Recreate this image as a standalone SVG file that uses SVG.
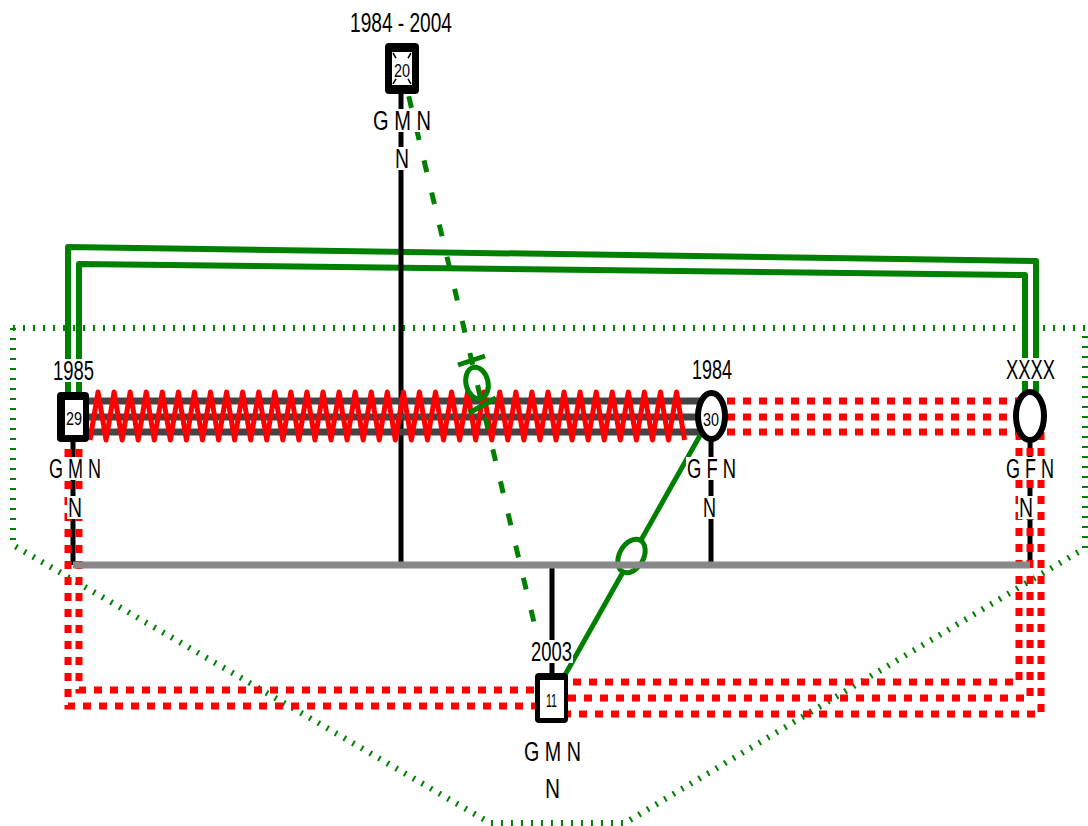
<svg xmlns="http://www.w3.org/2000/svg" width="1088" height="826" viewBox="0 0 1088 826">
<style>
.lbl{font-family:"Liberation Sans",Arial,sans-serif;font-size:27px;fill:#000}
.num{font-family:"Liberation Sans",Arial,sans-serif;font-size:19px;fill:#000}
.bg{fill:#fff}
.blk{stroke:#000;stroke-width:5;fill:none}
.grn{stroke:#008000;stroke-width:6;fill:none;stroke-linejoin:round}
.reddash{stroke:#ff0000;stroke-width:7;fill:none;stroke-dasharray:8 8}
.dark{stroke:#444;stroke-width:7;fill:none}
</style>
<rect width="1088" height="826" fill="#fff"/>
<g id="connectors">
  <polygon points="13,328 1085,328 1085,548 625,823 490,823 13,545" fill="none" stroke="#008000" stroke-width="6" stroke-dasharray="2 8"/>
  <polyline class="grn" points="68,417 68,247 1036,261 1036,416"/>
  <polyline class="grn" points="79,417 79,264 1025,275 1025,416"/>
  <line class="blk" x1="401" y1="68" x2="401" y2="565"/>
  <line class="blk" x1="73" y1="417" x2="73" y2="565"/>
  <line class="blk" x1="711" y1="416" x2="711" y2="565"/>
  <line class="blk" x1="1030" y1="416" x2="1030" y2="565"/>
  <line class="blk" x1="552" y1="565" x2="552" y2="698"/>
  <line class="dark" x1="73" y1="401" x2="711" y2="401"/>
  <line class="dark" x1="73" y1="417" x2="711" y2="417"/>
  <line class="dark" x1="73" y1="432" x2="711" y2="432"/>
  <path d="M90,440 l8.035,-48 8.035,48 l8.035,-48 8.035,48 l8.035,-48 8.035,48 l8.035,-48 8.035,48 l8.035,-48 8.035,48 l8.035,-48 8.035,48 l8.035,-48 8.035,48 l8.035,-48 8.035,48 l8.035,-48 8.035,48 l8.035,-48 8.035,48 l8.035,-48 8.035,48 l8.035,-48 8.035,48 l8.035,-48 8.035,48 l8.035,-48 8.035,48 l8.035,-48 8.035,48 l8.035,-48 8.035,48 l8.035,-48 8.035,48 l8.035,-48 8.035,48 l8.035,-48 8.035,48 l8.035,-48 8.035,48 l8.035,-48 8.035,48 l8.035,-48 8.035,48 l8.035,-48 8.035,48 l8.035,-48 8.035,48 l8.035,-48 8.035,48 l8.035,-48 8.035,48 l8.035,-48 8.035,48 l8.035,-48 8.035,48 l8.035,-48 8.035,48 l8.035,-48 8.035,48 l8.035,-48 8.035,48 l8.035,-48 8.035,48 l8.035,-48 8.035,48 l8.035,-48 8.035,48 l8.035,-48 8.035,48 l8.035,-48 8.035,48 l8.035,-48 8.035,48" fill="none" stroke="#ff0000" stroke-width="5" stroke-linejoin="round"/>
  <line class="reddash" x1="711" y1="401" x2="1030" y2="401"/>
  <line class="reddash" x1="711" y1="417" x2="1030" y2="417"/>
  <line class="reddash" x1="711" y1="432" x2="1030" y2="432"/>
  <polyline class="reddash" points="68,417 68,706 552,706"/>
  <polyline class="reddash" points="79,417 79,690 552,690"/>
  <polyline class="reddash" points="1019,416 1019,682 552,682"/>
  <polyline class="reddash" points="1030,416 1030,698 552,698"/>
  <polyline class="reddash" points="1041,416 1041,714 552,714"/>
  <line x1="711" y1="416" x2="552" y2="698" stroke="#008000" stroke-width="5"/>
  <ellipse cx="631.5" cy="556" rx="12" ry="18" transform="rotate(29.4 631.5 556)" fill="#fff" stroke="#008000" stroke-width="5"/>
  <line x1="73" y1="565" x2="1030" y2="565" stroke="#888" stroke-width="7"/>
  <line x1="402" y1="68" x2="552" y2="698" stroke="#008000" stroke-width="5" stroke-dasharray="12 21" stroke-dashoffset="4"/>
  <ellipse cx="477" cy="383" rx="11" ry="16" transform="rotate(-13.4 477 383)" fill="none" stroke="#008000" stroke-width="5"/>
  <line x1="458" y1="365" x2="485" y2="356" stroke="#008000" stroke-width="5"/>
  <line x1="469" y1="413" x2="496" y2="398" stroke="#008000" stroke-width="5"/>
</g>
<g id="node20">
  <rect x="385" y="43" width="34" height="51" rx="4" fill="#000"/>
  <rect x="392" y="52" width="20" height="33" fill="#fff"/>
  <line x1="393" y1="53" x2="411" y2="84" stroke="#000" stroke-width="1.5" stroke-dasharray="6 23.8 6"/>
  <line x1="411" y1="53" x2="393" y2="84" stroke="#000" stroke-width="1.5" stroke-dasharray="6 23.8 6"/>
  <text class="num" x="394" y="77" textLength="16" lengthAdjust="spacingAndGlyphs">20</text>
  <rect class="bg" x="349" y="11" width="104" height="23"/>
  <text class="lbl" x="350" y="32" textLength="102" lengthAdjust="spacingAndGlyphs">1984 - 2004</text>
  <rect class="bg" x="372" y="109" width="60" height="23"/>
  <text class="lbl" x="373" y="130" textLength="58" lengthAdjust="spacingAndGlyphs">G M N</text>
  <rect class="bg" x="394" y="147" width="16" height="23"/>
  <text class="lbl" x="395" y="168" textLength="14" lengthAdjust="spacingAndGlyphs">N</text>
</g>
<g id="node29">
  <rect x="57" y="392" width="32" height="50" rx="4" fill="#000"/>
  <rect x="65" y="400" width="18" height="35" fill="#fff"/>
  <text class="num" x="66" y="425" textLength="16" lengthAdjust="spacingAndGlyphs">29</text>
  <rect class="bg" x="52" y="359" width="43" height="23"/>
  <text class="lbl" x="53" y="380" textLength="41" lengthAdjust="spacingAndGlyphs">1985</text>
  <rect class="bg" x="48" y="457" width="54" height="23"/>
  <text class="lbl" x="49" y="478" textLength="52" lengthAdjust="spacingAndGlyphs">G M N</text>
  <rect class="bg" x="67" y="496" width="16" height="23"/>
  <text class="lbl" x="68" y="517" textLength="14" lengthAdjust="spacingAndGlyphs">N</text>
</g>
<g id="node30">
  <ellipse cx="711.5" cy="416" rx="13.5" ry="23" fill="#fff" stroke="#000" stroke-width="6"/>
  <text class="num" x="703" y="426" textLength="16" lengthAdjust="spacingAndGlyphs">30</text>
  <rect class="bg" x="691" y="358" width="42" height="23"/>
  <text class="lbl" x="692" y="379" textLength="40" lengthAdjust="spacingAndGlyphs">1984</text>
  <rect class="bg" x="686" y="457" width="51" height="23"/>
  <text class="lbl" x="687" y="478" textLength="49" lengthAdjust="spacingAndGlyphs">G F N</text>
  <rect class="bg" x="702" y="496" width="15" height="23"/>
  <text class="lbl" x="703" y="517" textLength="13" lengthAdjust="spacingAndGlyphs">N</text>
</g>
<g id="nodeXXXX">
  <ellipse cx="1030" cy="416" rx="14" ry="24" fill="#fff" stroke="#000" stroke-width="6"/>
  <rect class="bg" x="1005" y="358" width="51" height="23"/>
  <text class="lbl" x="1006" y="379" textLength="49" lengthAdjust="spacingAndGlyphs">XXXX</text>
  <rect class="bg" x="1005" y="457" width="50" height="23"/>
  <text class="lbl" x="1006" y="478" textLength="48" lengthAdjust="spacingAndGlyphs">G F N</text>
  <rect class="bg" x="1018" y="496" width="16" height="23"/>
  <text class="lbl" x="1019" y="517" textLength="14" lengthAdjust="spacingAndGlyphs">N</text>
</g>
<g id="node11">
  <rect x="535" y="673" width="33" height="50" rx="4" fill="#000"/>
  <rect x="540" y="680" width="24" height="38" fill="#fff"/>
  <text class="num" x="546" y="707" textLength="11" lengthAdjust="spacingAndGlyphs">11</text>
  <rect class="bg" x="530" y="640" width="43" height="23"/>
  <text class="lbl" x="531" y="661" textLength="41" lengthAdjust="spacingAndGlyphs">2003</text>
  <rect class="bg" x="523" y="740" width="59" height="23"/>
  <text class="lbl" x="524" y="761" textLength="57" lengthAdjust="spacingAndGlyphs">G M N</text>
  <rect class="bg" x="544" y="777" width="17" height="23"/>
  <text class="lbl" x="545" y="798" textLength="15" lengthAdjust="spacingAndGlyphs">N</text>
</g>
</svg>
